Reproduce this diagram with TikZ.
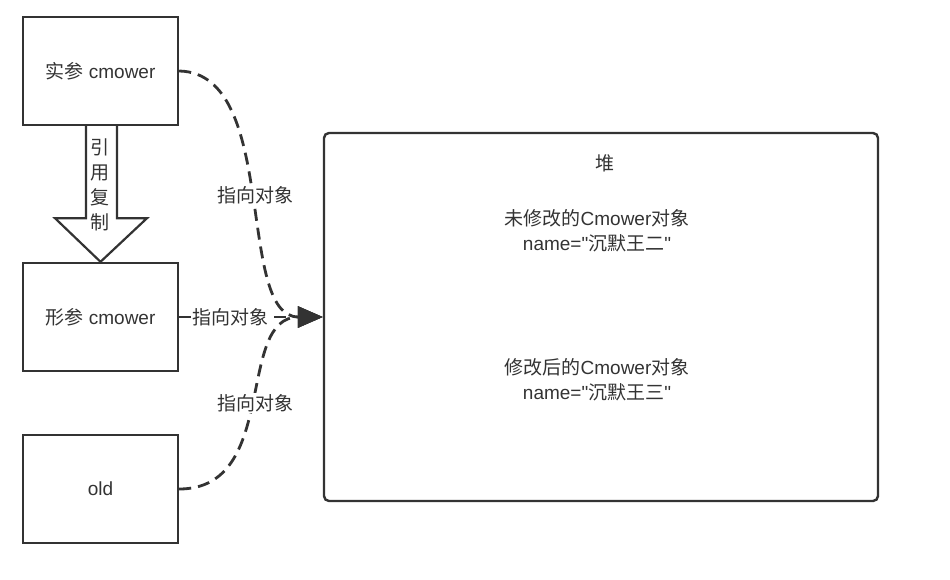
\documentclass[tikz,border=0pt]{standalone}
\usepackage{fontspec}
\setmainfont{Liberation Sans}[Ligatures=TeXOff]
\newfontfamily\cjk{Noto Sans CJK SC}
\usetikzlibrary{arrows.meta,calc}
\definecolor{ink}{HTML}{333333}
\begin{document}
\begin{tikzpicture}[x=1pt,y=-1pt,
  every node/.style={text=ink,font=\fontsize{19}{25}\selectfont},
  box/.style={draw=ink,line width=2.4pt,minimum width=155pt,minimum height=108pt,inner sep=0pt},
  heapbox/.style={draw=ink,line width=2.4pt,rounded corners=5pt,minimum width=554pt,minimum height=368pt,inner sep=0pt},
  ptr/.style={draw=ink,line width=2.8pt,dash pattern=on 12pt off 7pt,-{Triangle[length=25pt,width=21pt]}},
  lbl/.style={fill=white,inner sep=1.5pt},
  txt/.style={align=center}]
\useasboundingbox (0,0) rectangle (950,579);
\node[box] (A) at (100.5,71) {{\cjk 实参} cmower};
\node[box] (B) at (100.5,317) {{\cjk 形参} cmower};
\node[box] (C) at (100.5,489) {old};
\node[heapbox] (H) at (601,317) {};
\node[txt] (t0) at (605,163) {{\cjk 堆}};
\node[txt] (t1) at (597,231) {{\cjk 未修改的}Cmower{\cjk 对象}\\name="{\cjk 沉默王二}"};
\node[txt] (t2) at (597,380) {{\cjk 修改后的}Cmower{\cjk 对象}\\name="{\cjk 沉默王三}"};
% hollow arrow from A to B
\draw[ink,line width=2.2pt,line join=miter]
  ($(A.south)+(-14.5,0)$) -- ($(A.south)+(-14.5,92)$) -- ($(A.south)+(-45.5,92)$)
  -- (B.north) -- ($(A.south)+(46.5,92)$) -- ($(A.south)+(16.5,92)$) -- ($(A.south)+(16.5,0)$);
\node[align=center,font=\fontsize{19}{25}\selectfont\cjk,inner sep=0pt] (copy) at (100,185) {引\\用\\复\\制};
% pointers
\draw[ptr] (A.east) .. controls (280,73) and (235,317) .. (H.west) node[lbl,pos=0.5] (l1) {{\cjk 指向对象}};
\draw[ptr] (B.east) -- (H.west) node[lbl,pos=0.36] (l2) {{\cjk 指向对象}};
\draw[ptr] (C.east) .. controls (280,489) and (235,317) .. (H.west) node[lbl,pos=0.5] (l3) {{\cjk 指向对象}};
\end{tikzpicture}
\end{document}
